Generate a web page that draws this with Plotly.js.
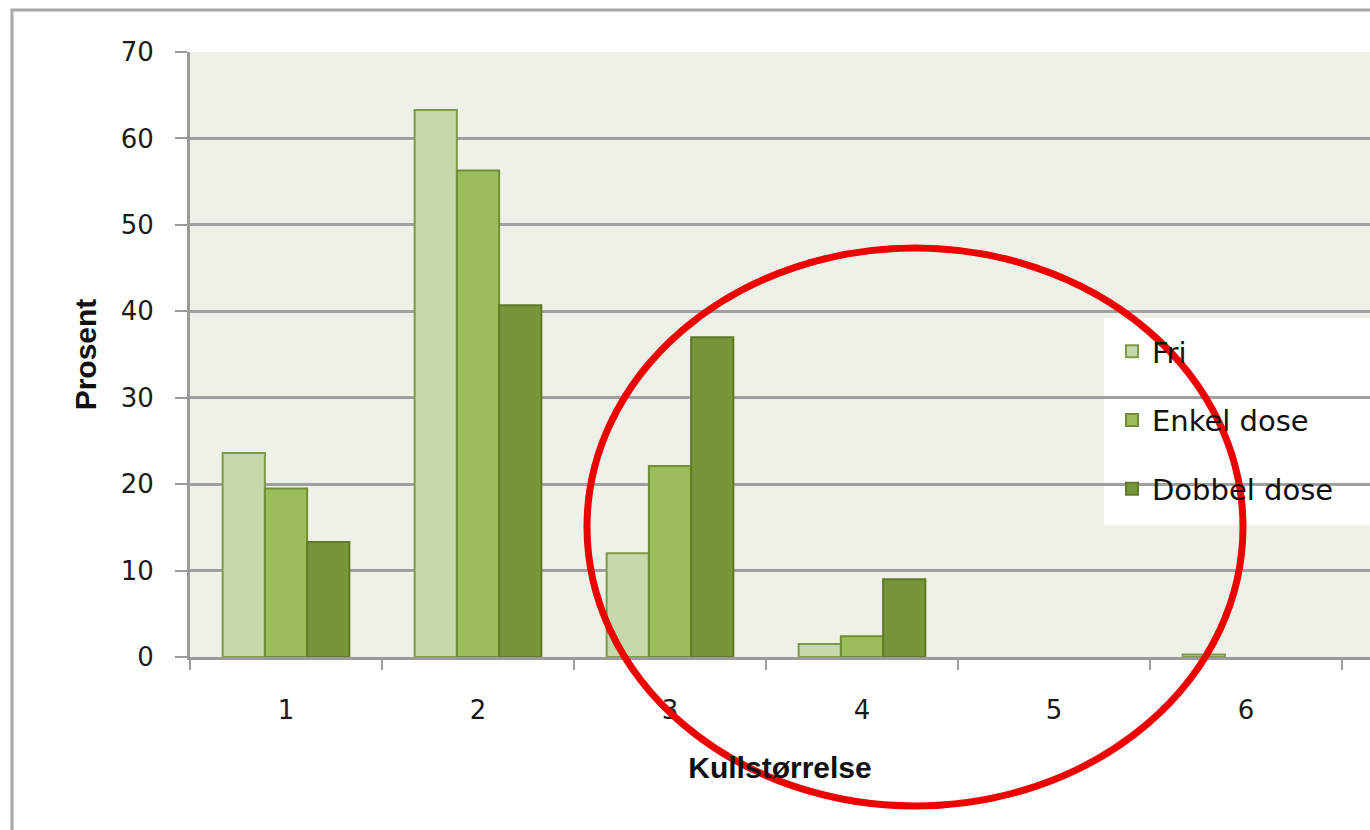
<!DOCTYPE html>
<html>
<head>
<meta charset="utf-8">
<script src="https://cdn.plot.ly/plotly-3.0.1.min.js"></script>
<style>html,body{margin:0;padding:0;background:#fff;}#chart{width:1370px;height:830px;}</style>
</head>
<body>
<div id="chart"></div>
<script>
const categories = ["1", "2", "3", "4", "5", "6"];
const fri = [23.6, 63.3, 12.0, 1.5, 0, 0.3];
const enkel = [19.5, 56.3, 22.1, 2.4, 0, 0];
const dobbel = [13.3, 40.7, 37.0, 9.0, 0, 0];
const seriesNames = ["Fri", "Enkel dose", "Dobbel dose"];
const yTicks = [0, 10, 20, 30, 40, 50, 60, 70];

const fills = ["#c6d9ad", "#9dbd5b", "#77953a"];
const borders = ["#7d9a48", "#6f8f35", "#5f7b28"];
const vals = [fri, enkel, dobbel];

const traces = vals.map((v, i) => ({
  type: "bar",
  x: categories,
  y: v,
  name: seriesNames[i],
  legendgroup: "g" + i,
  marker: {color: fills[i], line: {color: borders[i], width: v.map(d => d > 0 ? 2 : 0)}},
  hoverinfo: "x+y+name"
}));

const W = 1370, H = 830, L = 190, R = 0, T = 52, B = 173;
const pw = W - L - R, ph = H - T - B;
const px = v => (v - L) / pw;
const py = v => (H - B - v) / ph;

const layout = {
  width: W, height: H,
  margin: {l: L, r: R, t: T, b: B, pad: 0},
  paper_bgcolor: "#ffffff",
  plot_bgcolor: "#eef1e7",
  barmode: "group",
  bargap: 0.34,
  bargroupgap: 0,
  font: {family: "DejaVu Sans, Verdana, sans-serif", color: "#222222"},
  xaxis: {
    type: "category",
    range: [-0.5, 5.5 + 28/192],
    tickson: "boundaries",
    ticks: "outside",
    ticklen: 10,
    tickwidth: 2,
    tickcolor: "#9a9a9a",
    ticklabelstandoff: 28,
    showgrid: false,
    showline: true,
    linecolor: "#9a9a9a",
    linewidth: 3,
    tickfont: {size: 26, family: "DejaVu Sans, Verdana, sans-serif", color: "#1a1a1a"},
    title: {text: "Kullstørrelse", font: {size: 30, family: "Liberation Sans, Arial, sans-serif", weight: "bold", color: "#111"}, standoff: 33},
    fixedrange: true
  },
  yaxis: {
    range: [0, 70],
    tickvals: yTicks,
    ticks: "outside",
    ticklen: 12,
    tickwidth: 2,
    tickcolor: "#9a9a9a",
    ticklabelstandoff: 16,
    showgrid: true,
    gridcolor: "#a0a0a0",
    gridwidth: 3,
    showline: true,
    linecolor: "#9a9a9a",
    linewidth: 3,
    zeroline: false,
    tickfont: {size: 26, family: "DejaVu Sans, Verdana, sans-serif", color: "#1a1a1a"},
    title: {text: "Prosent", font: {size: 30, family: "Liberation Sans, Arial, sans-serif", weight: "bold", color: "#111"}, standoff: 16},
    fixedrange: true
  },
  legend: {
    x: px(1112), y: py(326), xanchor: "left", yanchor: "top",
    bgcolor: "rgba(0,0,0,0)",
    font: {size: 29, family: "DejaVu Sans, Verdana, sans-serif", color: "#111"},
    traceorder: "grouped",
    tracegroupgap: 28,
    itemwidth: 30
  },
  shapes: [
    {type: "rect", xref: "paper", yref: "paper", x0: px(12), x1: px(1400), y0: py(850), y1: py(10),
     line: {color: "#a8a8a8", width: 3}, fillcolor: "rgba(0,0,0,0)", layer: "below"},
    {type: "rect", xref: "paper", yref: "paper", x0: px(1104), x1: px(1372), y0: py(525), y1: py(318),
     line: {width: 0}, fillcolor: "#ffffff", layer: "between"},
    {type: "circle", xref: "paper", yref: "paper", x0: px(587), x1: px(1243), y0: py(806), y1: py(248),
     line: {color: "#ee0000", width: 7}, fillcolor: "rgba(0,0,0,0)", layer: "above"}
  ]
};

Plotly.newPlot("chart", traces, layout, {displayModeBar: false, staticPlot: true});
</script>
</body>
</html>
